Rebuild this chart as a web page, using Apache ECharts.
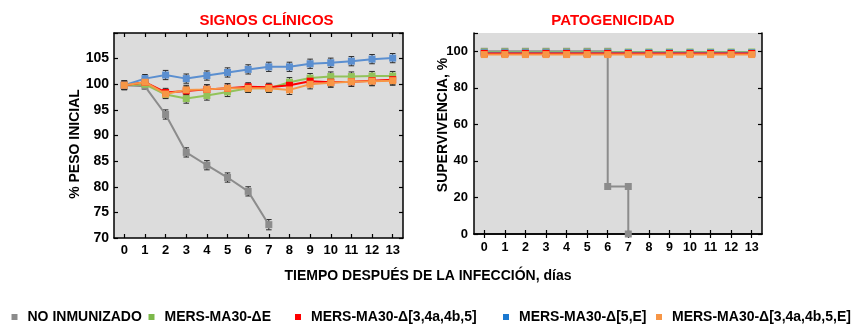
<!DOCTYPE html>
<html>
<head>
<meta charset="utf-8">
<script src="https://cdn.jsdelivr.net/npm/echarts@6/dist/echarts.min.js"></script>
<style>
html,body{margin:0;padding:0;background:#fff;}
#chart{width:855px;height:326px;}
</style>
</head>
<body>
<div id="chart"></div>
<script>
// ---- data ----
const days = ['0','1','2','3','4','5','6','7','8','9','10','11','12','13'];
const yTicksWeight = [70, 75, 80, 85, 90, 95, 100, 105];
const yTicksSurv = [0, 20, 40, 60, 80, 100];

const seriesNames = ['NO INMUNIZADO', 'MERS-MA30-ΔE', 'MERS-MA30-Δ[3,4a,4b,5]', 'MERS-MA30-Δ[5,E]', 'MERS-MA30-Δ[3,4a,4b,5,E]'];

// % peso inicial (mean) and error
const grayWeight   = [99.8, 99.6, 94.1, 86.7, 84.2, 81.8, 79.1, 72.6];
const grayWeightErr= [0.9, 0.6, 0.9, 0.9, 0.9, 0.9, 0.9, 1.0];
const greenWeight  = [99.8, 100.0, 98.0, 97.2, 97.8, 98.5, 99.2, 99.2, 100.4, 101.2, 101.5, 101.5, 101.6, 101.6];
const greenWeightErr=[0.8, 0.6, 0.8, 0.9, 0.9, 0.9, 0.8, 0.8, 0.9, 0.9, 0.9, 0.9, 0.9, 0.9];
const redWeight    = [99.8, 100.4, 98.4, 98.7, 99.0, 99.2, 99.5, 99.4, 99.8, 100.6, 100.4, 100.5, 100.7, 100.9];
const redWeightErr = [0.8, 0.7, 0.8, 0.9, 0.9, 0.9, 0.8, 0.8, 0.9, 0.9, 0.9, 0.9, 0.9, 0.9];
const blueWeight   = [99.8, 101.1, 101.8, 101.1, 101.7, 102.3, 102.9, 103.4, 103.4, 104.0, 104.2, 104.5, 104.9, 105.1];
const blueWeightErr= [0.8, 0.8, 0.9, 0.9, 0.9, 0.9, 0.9, 0.9, 0.9, 0.9, 0.9, 0.9, 0.9, 0.9];
const orangeWeight = [99.8, 100.4, 98.1, 98.9, 99.0, 99.2, 99.2, 99.2, 98.9, 100.0, 100.3, 100.5, 100.6, 100.7];
const orangeWeightErr=[0.8, 0.7, 0.8, 0.9, 0.9, 0.9, 0.8, 0.8, 0.9, 0.9, 0.9, 0.9, 0.9, 0.9];

// supervivencia, %
const graySurvX = [0, 1, 2, 3, 4, 5, 6, 6, 7, 7];
const graySurvY = [100, 100, 100, 100, 100, 100, 100, 26, 26, 0];
const greenSurv  = [99.6, 99.6, 99.6, 99.6, 99.6, 99.6, 99.6, 99.6, 99.6, 99.6, 99.6, 99.6, 99.6, 99.6];
const blueSurv   = [99.2, 99.2, 99.2, 99.2, 99.2, 99.2, 99.2, 99.2, 99.2, 99.2, 99.2, 99.2, 99.2, 99.2];
const redSurv    = [98.8, 98.8, 98.8, 98.8, 98.8, 98.8, 98.8, 98.8, 98.8, 98.8, 98.8, 98.8, 98.8, 98.8];
const orangeSurv = [98.2, 98.2, 98.2, 98.2, 98.2, 98.2, 98.2, 98.2, 98.2, 98.2, 98.2, 98.2, 98.2, 98.2];

const colors = ['#8c8c8c', '#92c35a', '#ff0000', '#5b8fd0', '#f79646'];
const legendColors = ['#8c8c8c', '#7cb84a', '#ff0000', '#1a78d0', '#f79646'];

// ---- chart ----
const FONT = '"Liberation Sans", Arial, sans-serif';
const chart = echarts.init(document.getElementById('chart'), null, {renderer: 'canvas'});

function errData(vals, errs) {
  return vals.map((v, i) => [i, v, errs[i]]);
}
function errSeries(vals, errs, xi, yi) {
  return {
    type: 'custom', xAxisIndex: xi, yAxisIndex: yi, z: 1, silent: true,
    data: errData(vals, errs),
    renderItem: function (params, api) {
      const x = api.value(0), y = api.value(1), e = api.value(2);
      const hi = api.coord([x, y + e]);
      const lo = api.coord([x, y - e]);
      const w = 2.8;
      const st = {stroke: '#2b2b2b', lineWidth: 1};
      return {type: 'group', children: [
        {type: 'line', shape: {x1: hi[0], y1: hi[1], x2: lo[0], y2: lo[1]}, style: st},
        {type: 'line', shape: {x1: hi[0] - w, y1: hi[1], x2: hi[0] + w, y2: hi[1]}, style: st},
        {type: 'line', shape: {x1: lo[0] - w, y1: lo[1], x2: lo[0] + w, y2: lo[1]}, style: st}
      ]};
    }
  };
}
function lineSeries(name, data, color, xi, yi, z, lw) {
  return {
    type: 'line', name: name, xAxisIndex: xi, yAxisIndex: yi, z: z,
    data: data, symbol: 'rect', symbolSize: 7, showSymbol: true,
    lineStyle: {color: color, width: lw || 2}, itemStyle: {color: color},
    emphasis: {disabled: true}, animation: false
  };
}

const axisLineStyle = {show: true, lineStyle: {color: '#000', width: 1.5}};
function catAxis(grid, pos, showLabels, fs, margin) {
  return {
    type: 'category', gridIndex: grid, position: pos, data: days, boundaryGap: true,
    axisLine: axisLineStyle,
    axisTick: {show: true, inside: true, alignWithLabel: true, length: 4, lineStyle: {color: '#000', width: 1.2}},
    axisLabel: {show: showLabels, color: '#000', fontWeight: 'bold', fontSize: fs, fontFamily: FONT, margin: margin},
    splitLine: {show: false}
  };
}
function valAxis(grid, pos, showLabels, min, max, interval, fs, margin) {
  return {
    type: 'value', gridIndex: grid, position: pos, min: min, max: max, interval: interval,
    axisLine: axisLineStyle,
    axisTick: {show: true, inside: true, length: 4, lineStyle: {color: '#000', width: 1.2}},
    axisLabel: {show: showLabels, color: '#000', fontWeight: 'bold', fontSize: fs, fontFamily: FONT, margin: margin,
      formatter: function (v) { return v > max - interval / 2 ? '' : String(v); }},
    splitLine: {show: false}
  };
}

const legendLefts = [11.5, 148.5, 295, 503, 656];
const legends = seriesNames.map((n, i) => ({
  left: legendLefts[i], top: 309, padding: 0, itemGap: 0,
  itemWidth: 6, itemHeight: 6, icon: 'rect', selectedMode: false,
  data: [{name: n, itemStyle: {color: legendColors[i]}}],
  textStyle: {color: '#000', fontWeight: 'bold', fontSize: 14, fontFamily: FONT, padding: [0, 0, 0, 5], lineHeight: 16}
}));

const option = {
  animation: false,
  backgroundColor: '#fff',
  grid: [
    {left: 114, top: 33, width: 289, height: 205, show: true, backgroundColor: '#dcdcdc', borderWidth: 0},
    {left: 474, top: 33, width: 288, height: 201, show: true, backgroundColor: '#dcdcdc', borderWidth: 0}
  ],
  xAxis: [
    catAxis(0, 'bottom', true, 13, 6),
    catAxis(0, 'top', false, 13, 6),
    catAxis(1, 'bottom', true, 12.5, 7),
    catAxis(1, 'top', false, 12.5, 7)
  ],
  yAxis: [
    valAxis(0, 'left', true, 70, 110, 5, 14, 5),
    valAxis(0, 'right', false, 70, 110, 5, 14, 5),
    valAxis(1, 'left', true, 0, 110, 20, 13, 6),
    valAxis(1, 'right', false, 0, 110, 20, 13, 6)
  ],
  legend: legends,
  graphic: [
    {type: 'text', x: 266.5, y: 20.5, style: {text: 'SIGNOS CLÍNICOS', fill: '#ff0000', font: 'bold 15px ' + FONT, textAlign: 'center', textVerticalAlign: 'middle'}},
    {type: 'text', x: 613, y: 20.5, style: {text: 'PATOGENICIDAD', fill: '#ff0000', font: 'bold 15px ' + FONT, textAlign: 'center', textVerticalAlign: 'middle'}},
    {type: 'text', x: 428, y: 276.5, style: {text: 'TIEMPO DESPUÉS DE LA INFECCIÓN, días', fill: '#000', font: 'bold 14px ' + FONT, textAlign: 'center', textVerticalAlign: 'middle'}},
    {type: 'text', x: 75, y: 144, rotation: Math.PI / 2, style: {text: '% PESO INICIAL', fill: '#000', font: 'bold 14px ' + FONT, textAlign: 'center', textVerticalAlign: 'middle'}},
    {type: 'text', x: 443.5, y: 125, rotation: Math.PI / 2, style: {text: 'SUPERVIVENCIA, %', fill: '#000', font: 'bold 14px ' + FONT, textAlign: 'center', textVerticalAlign: 'middle'}}
  ],
  series: [
    errSeries(grayWeight, grayWeightErr, 0, 0),
    errSeries(greenWeight, greenWeightErr, 0, 0),
    errSeries(redWeight, redWeightErr, 0, 0),
    errSeries(blueWeight, blueWeightErr, 0, 0),
    errSeries(orangeWeight, orangeWeightErr, 0, 0),
    lineSeries(seriesNames[0], grayWeight, colors[0], 0, 0, 2),
    lineSeries(seriesNames[1], greenWeight, colors[1], 0, 0, 3),
    lineSeries(seriesNames[2], redWeight, colors[2], 0, 0, 4),
    lineSeries(seriesNames[3], blueWeight, colors[3], 0, 0, 5),
    lineSeries(seriesNames[4], orangeWeight, colors[4], 0, 0, 6),
    lineSeries(seriesNames[0], graySurvX.map((x, i) => [x, graySurvY[i]]), colors[0], 2, 2, 2),
    lineSeries(seriesNames[1], greenSurv, colors[1], 2, 2, 3),
    lineSeries(seriesNames[3], blueSurv, colors[3], 2, 2, 4),
    lineSeries(seriesNames[2], redSurv, colors[2], 2, 2, 5),
    lineSeries(seriesNames[4], orangeSurv, colors[4], 2, 2, 6)
  ]
};
chart.setOption(option);
</script>
</body>
</html>
